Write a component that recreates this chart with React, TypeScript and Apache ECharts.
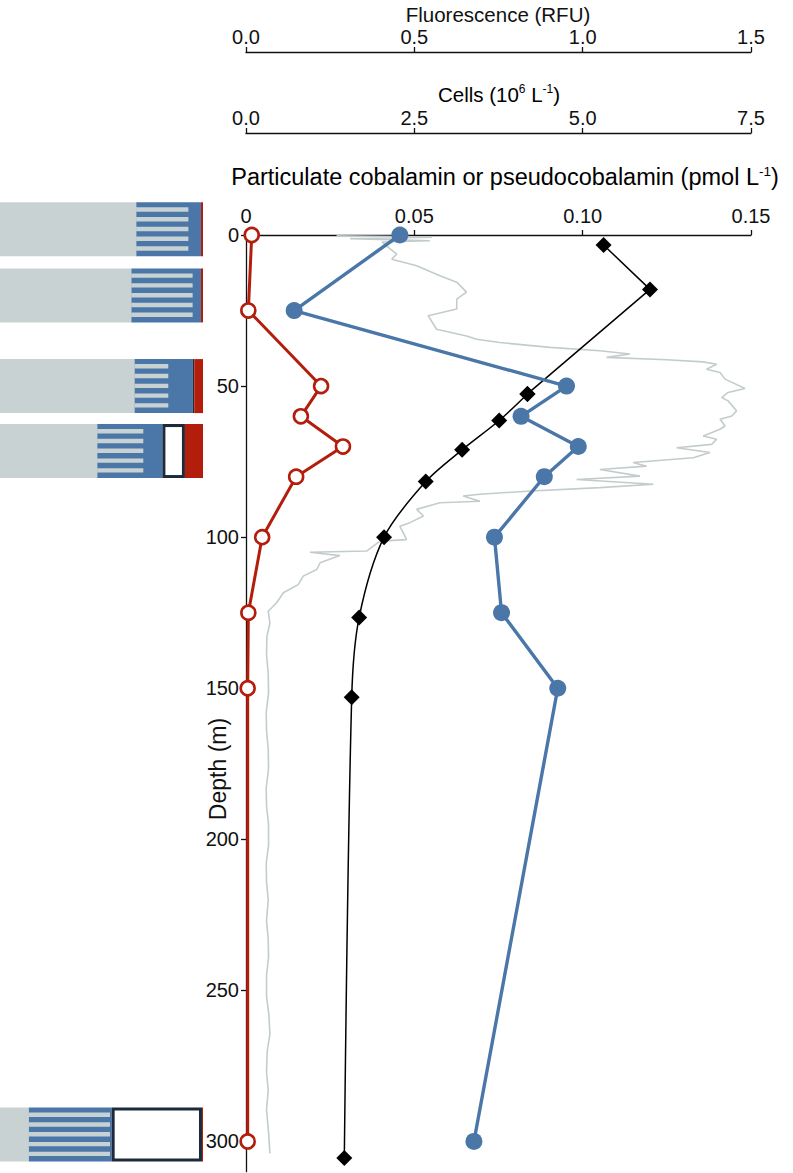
import React, { useEffect, useRef } from 'react';
import * as echarts from 'echarts';

const FONT = '"Liberation Sans", Arial, Helvetica, sans-serif';
const INK = '#111111';
const GREY = '#c9d2d2';
const BLUE = '#4a76a8';
const RED = '#b31d0c';
const NAVY = '#1c2a3c';
const FLUOR = '#c3cccc';

// Particulate cobalamin / pseudocobalamin (pmol L-1)
const redDepths = [0, 25, 50, 60, 70, 80, 100, 125, 150, 300];
const redValues = [0.0017, 0.0007, 0.0223, 0.0163, 0.0288, 0.0149, 0.0048, 0.0007, 0.0005, 0.0005];

const blueDepths = [0, 25, 50, 60, 70, 80, 100, 125, 150, 300];
const blueValues = [0.0457, 0.0143, 0.0952, 0.0817, 0.0987, 0.0886, 0.0738, 0.0759, 0.0926, 0.0677];

// Cells (10^6 L-1)
const cellDepths = [3.3, 18, 52.6, 61.4, 71.1, 81.6, 100, 126.6, 153, 305.5];
const cellValues = [5.31, 6.0, 4.18, 3.76, 3.21, 2.67, 2.05, 1.68, 1.57, 1.46];

// Fluorescence (RFU) profile
const fluorDepths = [
  0.3, 0.7, 1.2, 1.9, 2.3, 4.6, 6.3, 8.0, 10.2, 13.5, 15.6, 18.9, 21.2, 24.5, 26.7, 31.2,
  33.4, 34.5, 35.6, 37.2, 38.3, 39.4, 40.5, 41.3, 42.0, 42.8, 44.4, 45.5, 47.7, 50.8, 52.1,
  53.8, 54.9, 58.2, 59.9, 61.0, 63.2, 64.3, 66.5, 67.6, 69.3, 70.4, 72.0, 73.7, 75.3, 76.5,
  77.6, 79.8, 80.9, 82.5, 83.6, 84.8, 85.8, 86.4, 88.1, 88.6, 90.8, 93.0, 95.2, 96.4, 98.5,
  100.8, 101.3, 104.6, 105.0, 106.1, 108.5, 110.7, 112.9, 115.7, 118.4, 121.7, 124.5, 128.4,
  133, 139, 145, 151.6, 158, 164, 170, 176.7, 183, 189, 195, 202, 208, 214, 220, 227, 233,
  239, 245, 252, 258, 264.5, 270, 277, 283, 289.5, 297, 304,
];
const fluorValues = [
  0.269, 0.552, 0.309, 0.546, 0.404, 0.428, 0.448, 0.433, 0.507, 0.576, 0.626, 0.655, 0.626,
  0.626, 0.541, 0.566, 0.655, 0.685, 0.754, 0.903, 1.051, 1.14, 1.071, 1.249, 1.358, 1.398,
  1.368, 1.408, 1.423, 1.482, 1.432, 1.413, 1.432, 1.457, 1.443, 1.408, 1.423, 1.408, 1.358,
  1.398, 1.383, 1.279, 1.378, 1.329, 1.15, 1.19, 1.051, 1.17, 0.982, 1.21, 1.051, 0.834,
  0.695, 0.645, 0.695, 0.576, 0.507, 0.527, 0.487, 0.457, 0.467, 0.477, 0.398, 0.358, 0.19,
  0.279, 0.22, 0.21, 0.17, 0.155, 0.111, 0.091, 0.066, 0.071, 0.062, 0.061, 0.066, 0.067,
  0.06, 0.061, 0.066, 0.067, 0.06, 0.061, 0.067, 0.067, 0.06, 0.061, 0.066, 0.061, 0.066,
  0.067, 0.061, 0.061, 0.068, 0.071, 0.063, 0.061, 0.066, 0.061, 0.067, 0.071,
];

// Composition boxes (percent of visible bar width, cumulative ends)
const boxDepths = [-1.9, 20, 50, 71.5, 297.7];
const boxGreyEnd = [67.3, 64.9, 66.5, 48.1, 14.4];
const boxHatchEnd = [92.8, 94.9, 82.9, 70.6, 54.2];
const boxBlueEnd = [99.0, 99.0, 94.9, 80.0, 55.0];
const boxWhiteEnd = [99.0, 99.0, 95.7, 91.1, 99.5];

const depthTicks = [0, 50, 100, 150, 200, 250, 300];

const zip = (xs: number[], ys: number[]) => xs.map((x, i) => [x, ys[i]]);

export default function App() {
  const ref = useRef<HTMLDivElement>(null);
  useEffect(() => {
    if (!ref.current) return;
    const chart = echarts.init(ref.current, undefined, { renderer: 'svg' });

    const axisLine = { show: true, onZero: false, lineStyle: { color: INK, width: 1.3 } };
    const labelStyle = { color: INK, fontSize: 20, fontFamily: FONT };
    const topAxis = (max: number, interval: number, offset: number, margin: number, fmt: (v: number) => string) => ({
      type: 'value',
      gridIndex: 0,
      position: 'top',
      offset,
      min: 0,
      max,
      interval,
      axisLine,
      axisTick: { show: true, inside: false, length: 5, lineStyle: { color: INK, width: 1.3 } },
      axisLabel: { ...labelStyle, margin, formatter: fmt },
      splitLine: { show: false },
    });

    const boxData = boxDepths.map((d, i) => [d, boxGreyEnd[i], boxHatchEnd[i], boxBlueEnd[i], boxWhiteEnd[i]]);
    const BOX_H = 54;

    const richSmall = {
      a: { fontSize: 20.5, fontFamily: FONT, color: INK, lineHeight: 22 },
      s: { fontSize: 12, fontFamily: FONT, color: INK, lineHeight: 14, verticalAlign: 'top' },
    };
    const richBig = {
      a: { fontSize: 23.5, fontFamily: FONT, color: INK, lineHeight: 25 },
      s: { fontSize: 13.5, fontFamily: FONT, color: INK, lineHeight: 16, verticalAlign: 'top' },
    };

    const cellsPts = zip(cellValues, cellDepths);

    chart.setOption({
      animation: false,
      grid: [
        { left: 246, right: 42, top: 235, height: 936.7 },
        { left: 0, width: 203, top: 235 - 15 * 3.0217, height: 325 * 3.0217 },
      ],
      xAxis: [
        topAxis(0.15, 0.05, 0, 9, (v) => (v === 0 ? '0' : v.toFixed(2))),
        topAxis(7.5, 2.5, 102, 5, (v) => v.toFixed(1)),
        topAxis(1.5, 0.5, 183, 5, (v) => v.toFixed(1)),
        { type: 'value', gridIndex: 1, min: 0, max: 100, show: false },
      ],
      yAxis: [
        {
          type: 'value',
          gridIndex: 0,
          inverse: true,
          min: 0,
          max: 310,
          interval: 50,
          axisLine,
          axisTick: { show: true, length: 5, customValues: depthTicks, lineStyle: { color: INK, width: 1.3 } },
          axisLabel: { ...labelStyle, margin: 7, customValues: depthTicks },
          splitLine: { show: false },
        },
        { type: 'value', gridIndex: 1, inverse: true, min: -15, max: 310, show: false },
      ],
      graphic: [
        {
          type: 'text', x: 498, y: 14,
          style: { text: 'Fluorescence (RFU)', fontSize: 20.5, fontFamily: FONT, fill: INK, align: 'center', verticalAlign: 'middle' },
        },
        {
          type: 'text', x: 499, y: 94,
          style: { text: '{a|Cells (10}{s|6}{a| L}{s|-1}{a|)}', rich: richSmall, align: 'center', verticalAlign: 'middle' },
        },
        {
          type: 'text', x: 505, y: 177,
          style: {
            text: '{a|Particulate cobalamin or pseudocobalamin (pmol L}{s|-1}{a|)}',
            rich: richBig, align: 'center', verticalAlign: 'middle',
          },
        },
        {
          type: 'text', x: 218, y: 769, rotation: Math.PI / 2,
          style: { text: 'Depth (m)', fontSize: 23, fontFamily: FONT, fill: INK, align: 'center', verticalAlign: 'middle' },
        },
      ],
      series: [
        {
          name: 'Fluorescence',
          type: 'line',
          xAxisIndex: 2,
          yAxisIndex: 0,
          data: zip(fluorValues, fluorDepths),
          showSymbol: false,
          symbol: 'none',
          lineStyle: { color: FLUOR, width: 1.6 },
          z: 2,
        },
        {
          name: 'Cells',
          type: 'line',
          xAxisIndex: 1,
          yAxisIndex: 0,
          data: cellsPts.slice(0, 3),
          symbol: 'diamond',
          symbolSize: 16,
          itemStyle: { color: '#000' },
          lineStyle: { color: '#000', width: 1.5 },
          z: 3,
        },
        {
          name: 'Cells deep',
          type: 'line',
          xAxisIndex: 1,
          yAxisIndex: 0,
          data: cellsPts.slice(2),
          smooth: 0.3,
          symbol: 'diamond',
          symbolSize: 16,
          itemStyle: { color: '#000' },
          lineStyle: { color: '#000', width: 1.5 },
          z: 3,
        },
        {
          name: 'Blue',
          type: 'line',
          xAxisIndex: 0,
          yAxisIndex: 0,
          data: zip(blueValues, blueDepths),
          symbol: 'circle',
          symbolSize: 17,
          itemStyle: { color: BLUE },
          lineStyle: { color: BLUE, width: 3.4 },
          z: 4,
        },
        {
          name: 'Red',
          type: 'line',
          xAxisIndex: 0,
          yAxisIndex: 0,
          data: zip(redValues, redDepths),
          symbol: 'circle',
          symbolSize: 14,
          itemStyle: { color: '#ffffff', borderColor: RED, borderWidth: 2.6 },
          lineStyle: { color: RED, width: 3 },
          z: 5,
        },
        {
          name: 'Boxes',
          type: 'custom',
          xAxisIndex: 3,
          yAxisIndex: 1,
          encode: { x: 1, y: 0 },
          data: boxData,
          renderItem: (params: any, api: any) => {
            const d = api.value(0);
            const X = (p: number) => api.coord([p, d])[0];
            const cy = api.coord([0, d])[1];
            const top = cy - BOX_H / 2;
            const x0 = X(0);
            const xg = X(api.value(1));
            const xh = X(api.value(2));
            const xb = X(api.value(3));
            const xw = X(api.value(4));
            const xr = X(100);
            const children: any[] = [
              { type: 'rect', shape: { x: x0, y: top, width: xg - x0, height: BOX_H }, style: { fill: GREY } },
              { type: 'rect', shape: { x: xg - 0.3, y: top, width: xb - xg + 0.3, height: BOX_H }, style: { fill: BLUE } },
            ];
            const period = (BOX_H - 10) / 4.5;
            for (let k = 0; k < 5; k++) {
              children.push({
                type: 'rect',
                shape: { x: xg - 0.5, y: top + 5 + k * period, width: xh - xg + 0.5, height: 4.4 },
                style: { fill: GREY },
              });
            }
            if (xw > xb + 0.1) {
              const lw = 3;
              children.push({ type: 'rect', shape: { x: xb, y: top, width: xw - xb, height: BOX_H }, style: { fill: NAVY } });
              if (xw - xb > 2 * lw) {
                children.push({
                  type: 'rect',
                  shape: { x: xb + lw, y: top + lw, width: xw - xb - 2 * lw, height: BOX_H - 2 * lw },
                  style: { fill: '#ffffff' },
                });
              }
            }
            children.push({ type: 'rect', shape: { x: xw, y: top, width: xr - xw, height: BOX_H }, style: { fill: RED } });
            return { type: 'group', children };
          },
          z: 1,
        },
      ],
    });
    return () => chart.dispose();
  }, []);
  return (
    <div
      ref={ref}
      style={{ position: 'absolute', left: 0, top: 0, width: 793, height: 1173, background: '#fff' }}
    />
  );
}
